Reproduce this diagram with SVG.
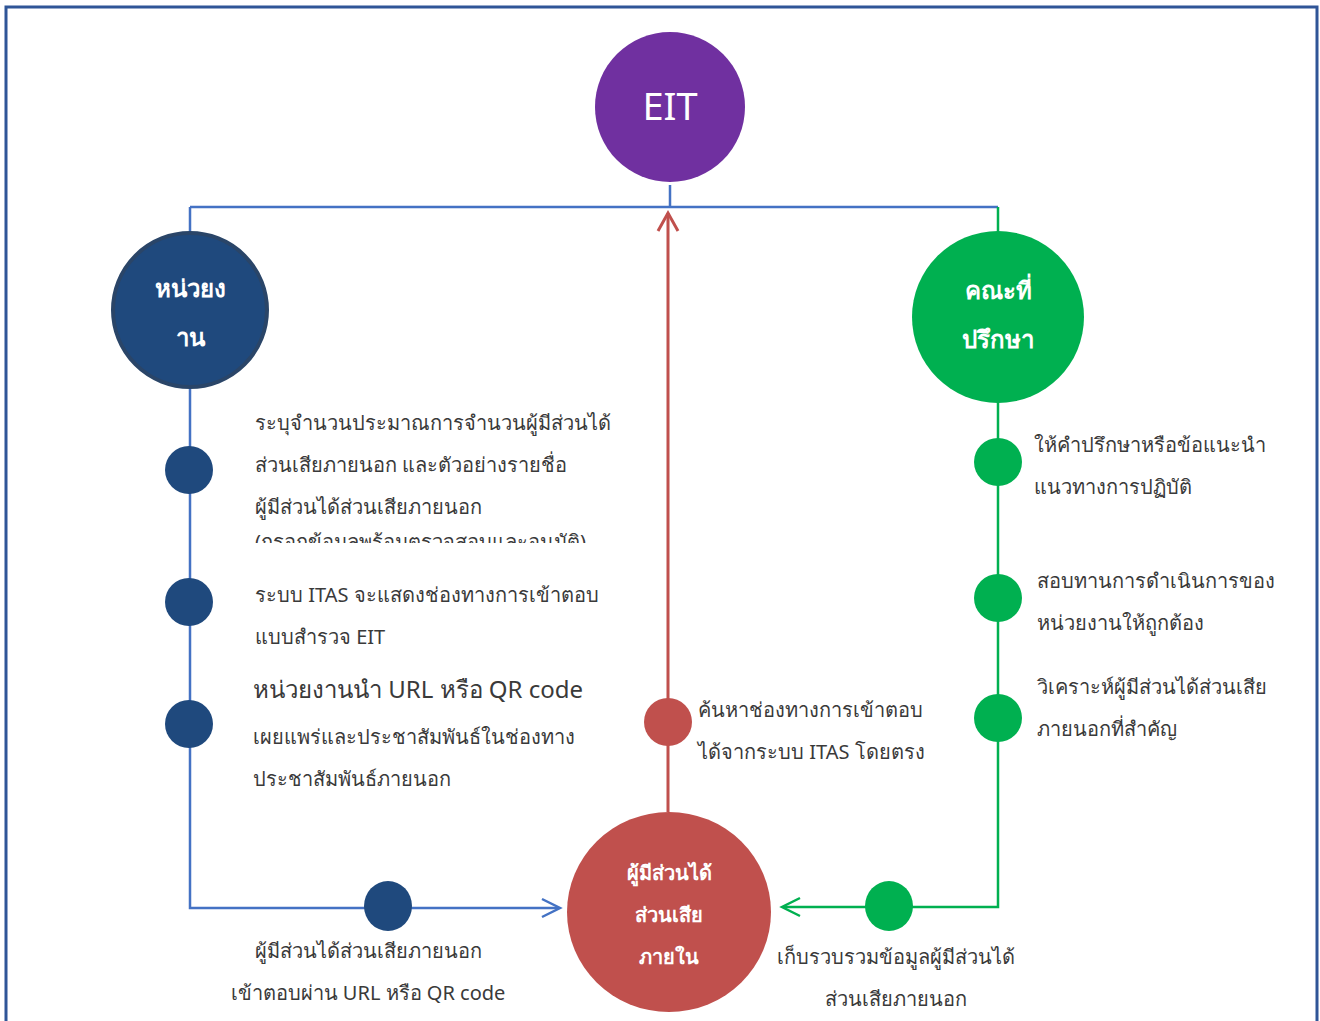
<svg xmlns="http://www.w3.org/2000/svg" width="1320" height="1021" viewBox="0 0 1320 1021">
<style>
.t{font-family:"Noto Sans","Liberation Sans",sans-serif;font-size:20px;fill:#3a3a3a}
.t.big{font-size:24px}
.w{font-family:"Noto Sans","Liberation Sans",sans-serif;fill:#ffffff;text-anchor:middle}
.b{font-weight:bold;font-size:24px}
.blue{stroke:#4472C4;stroke-width:2.5;fill:none}
.green{stroke:#00B050;stroke-width:2.5;fill:none}
.red{stroke:#C0504D;stroke-width:3;fill:none}
</style>
<defs>
<clipPath id="clipL"><rect x="240" y="520" width="400" height="23"/></clipPath>
</defs>
<rect width="1320" height="1021" fill="#ffffff"/>
<path d="M6,1021 V7 H1317 V1021" fill="none" stroke="#2F5597" stroke-width="3"/>
<g id="connectors">
<path class="blue" d="M670,185 V207 M190,207 H998"/>
<path class="blue" d="M190,207 V908 H558"/>
<path class="blue" d="M542,899 L560,908 L542,917"/>
<path class="green" d="M998,207 V907 H784"/>
<path class="green" d="M800,898 L782,907 L800,916"/>
<path class="red" d="M668,812 V213"/>
<path class="red" d="M658,231 L668,213 L678,231"/>
</g>
<g id="eit"><circle cx="670" cy="107" r="75" fill="#7030A0"/><text class="w" x="670" y="120" font-size="38">EIT</text></g>
<g id="agency"><circle cx="190" cy="310" r="77" fill="#1F497D" stroke="#2A4568" stroke-width="4"/><text class="w b" x="190" y="297">หน่วยง</text><text class="w b" x="190" y="346">าน</text></g>
<g id="advisor"><circle cx="998" cy="317" r="86" fill="#00B050"/><text class="w b" x="998" y="299">คณะที่</text><text class="w b" x="998" y="348">ปรึกษา</text></g>
<g id="internal"><ellipse cx="669" cy="912" rx="102" ry="100" fill="#C0504D"/><text class="w" font-size="20" font-weight="bold" x="669" y="880">ผู้มีส่วนได้</text><text class="w" font-size="20" font-weight="bold" x="669" y="922">ส่วนเสีย</text><text class="w" font-size="20" font-weight="bold" x="669" y="964">ภายใน</text></g>
<g id="step-l1"><circle cx="189" cy="470" r="24" fill="#1F497D"/>
<text class="t" x="255" y="430">ระบุจำนวนประมาณการจำนวนผู้มีส่วนได้</text>
<text class="t" x="255" y="472">ส่วนเสียภายนอก และตัวอย่างรายชื่อ</text>
<text class="t" x="255" y="514">ผู้มีส่วนได้ส่วนเสียภายนอก</text>
<text class="t" x="255" y="549" clip-path="url(#clipL)">(กรอกข้อมูลพร้อมตรวจสอบและอนุมัติ)</text></g>
<g id="step-l2"><circle cx="189" cy="602" r="24" fill="#1F497D"/>
<text class="t" x="255" y="602">ระบบ ITAS จะแสดงช่องทางการเข้าตอบ</text>
<text class="t" x="255" y="644">แบบสำรวจ EIT</text></g>
<g id="step-l3"><circle cx="189" cy="724" r="24" fill="#1F497D"/>
<text class="t big" x="253" y="698">หน่วยงานนำ URL หรือ QR code</text>
<text class="t" x="253" y="744">เผยแพร่และประชาสัมพันธ์ในช่องทาง</text>
<text class="t" x="253" y="786">ประชาสัมพันธ์ภายนอก</text></g>
<g id="step-l4"><ellipse cx="388" cy="906" rx="24" ry="25" fill="#1F497D"/>
<text class="t" x="368" y="958" text-anchor="middle">ผู้มีส่วนได้ส่วนเสียภายนอก</text>
<text class="t" x="368" y="1000" text-anchor="middle">เข้าตอบผ่าน URL หรือ QR code</text></g>
<g id="step-m1"><circle cx="668" cy="722" r="24" fill="#C0504D"/>
<text class="t" x="698" y="717">ค้นหาช่องทางการเข้าตอบ</text>
<text class="t" x="698" y="759">ได้จากระบบ ITAS โดยตรง</text></g>
<g id="step-r1"><circle cx="998" cy="462" r="24" fill="#00B050"/>
<text class="t" x="1034" y="452">ให้คำปรึกษาหรือข้อแนะนำ</text>
<text class="t" x="1034" y="494">แนวทางการปฏิบัติ</text></g>
<g id="step-r2"><circle cx="998" cy="598" r="24" fill="#00B050"/>
<text class="t" x="1037" y="588">สอบทานการดำเนินการของ</text>
<text class="t" x="1037" y="630">หน่วยงานให้ถูกต้อง</text></g>
<g id="step-r3"><circle cx="998" cy="718" r="24" fill="#00B050"/>
<text class="t" x="1037" y="694">วิเคราะห์ผู้มีส่วนได้ส่วนเสีย</text>
<text class="t" x="1037" y="736">ภายนอกที่สำคัญ</text></g>
<g id="step-r4"><ellipse cx="889" cy="906" rx="24" ry="25" fill="#00B050"/>
<text class="t" x="896" y="964" text-anchor="middle">เก็บรวบรวมข้อมูลผู้มีส่วนได้</text>
<text class="t" x="896" y="1006" text-anchor="middle">ส่วนเสียภายนอก</text></g>
</svg>
